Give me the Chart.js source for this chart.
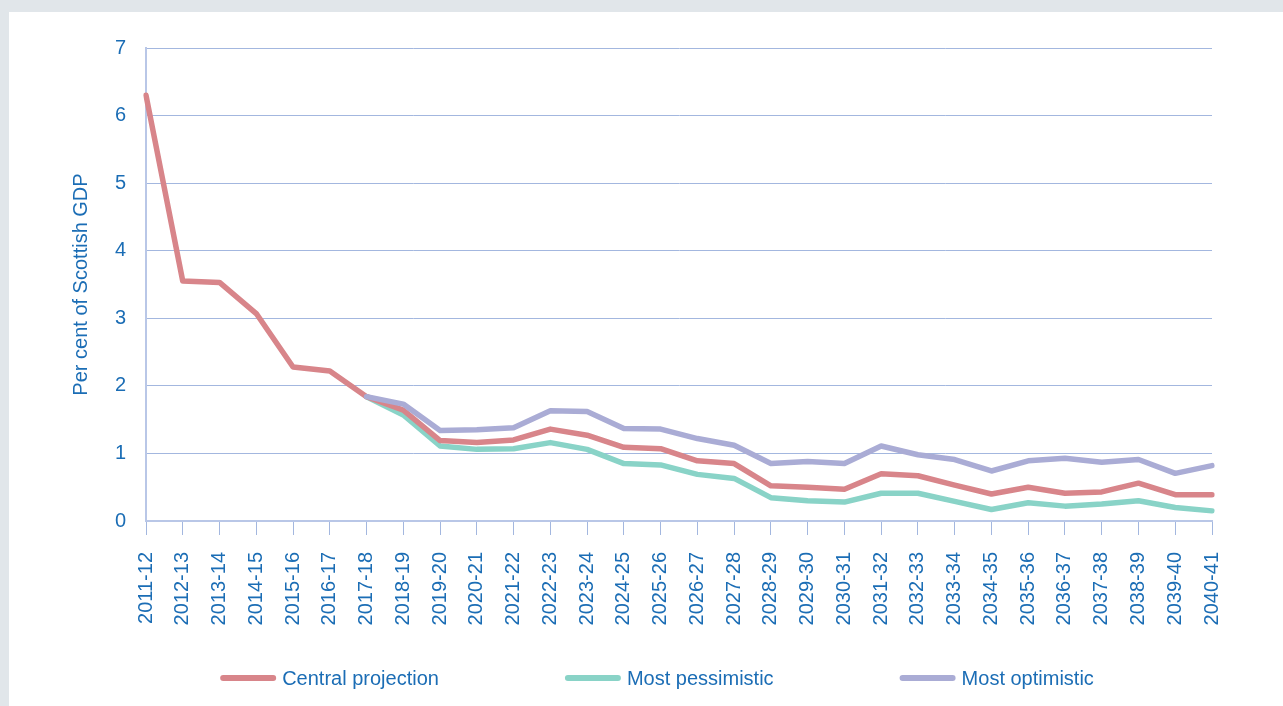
<!DOCTYPE html>
<html>
<head>
<meta charset="utf-8">
<style>
  html, body { margin: 0; padding: 0; width: 1283px; height: 706px; overflow: hidden; background: #e1e6ea; }
  #panel { position: absolute; left: 9px; top: 12px; width: 1274px; height: 694px; background: #ffffff; }
  #wrap { position: absolute; left: 0; top: 0; width: 1283px; height: 706px; }
</style>
<script src="https://cdn.jsdelivr.net/npm/chart.js@4/dist/chart.umd.min.js"></script>
</head>
<body>
<div id="panel"></div>
<div id="wrap"><canvas id="chart" width="1283" height="706"></canvas></div>
<script>
// Fiscal years on the horizontal axis
const years = [
  '2011-12', '2012-13', '2013-14', '2014-15', '2015-16', '2016-17', '2017-18', '2018-19',
  '2019-20', '2020-21', '2021-22', '2022-23', '2023-24', '2024-25', '2025-26', '2026-27',
  '2027-28', '2028-29', '2029-30', '2030-31', '2031-32', '2032-33', '2033-34', '2034-35',
  '2035-36', '2036-37', '2037-38', '2038-39', '2039-40', '2040-41'
];

// Per cent of Scottish GDP
const central = [
  6.30, 3.55, 3.53, 3.07, 2.28, 2.22, 1.84, 1.64, 1.19, 1.16,
  1.20, 1.36, 1.27, 1.09, 1.07, 0.89, 0.85, 0.52, 0.50, 0.47,
  0.70, 0.67, 0.53, 0.40, 0.50, 0.41, 0.43, 0.56, 0.39, 0.39
];
const pessimistic = [
  null, null, null, null, null, null, 1.84, 1.57, 1.11, 1.06,
  1.07, 1.16, 1.06, 0.85, 0.83, 0.69, 0.63, 0.345, 0.30, 0.28,
  0.41, 0.41, 0.29, 0.17, 0.27, 0.22, 0.25, 0.30, 0.20, 0.15
];
const optimistic = [
  null, null, null, null, null, null, 1.84, 1.73, 1.34, 1.35,
  1.38, 1.63, 1.62, 1.37, 1.36, 1.22, 1.12, 0.85, 0.88, 0.85,
  1.11, 0.98, 0.91, 0.74, 0.89, 0.93, 0.87, 0.91, 0.705, 0.82
];

const yTicks = [0, 1, 2, 3, 4, 5, 6, 7];
const seriesNames = ['Central projection', 'Most pessimistic', 'Most optimistic'];

const BLUE_TEXT = '#1b6db5';
const GRID = '#a3b7df';
const AXIS = '#b9c7e7';
const FONT = "'Liberation Sans', Arial, Helvetica, sans-serif";

// Legend laid out as a single centred row under the axis labels
const rowLegend = {
  id: 'rowLegend',
  afterDraw(chart) {
    const ctx = chart.ctx;
    const lineLen = 56, textGap = 6, itemGap = 126;
    const y = 678;
    ctx.save();
    ctx.font = '20px ' + FONT;
    const items = chart.data.datasets.map(ds => ({
      label: ds.label, color: ds.borderColor, w: lineLen + textGap + ctx.measureText(ds.label).width
    }));
    const total = items.reduce((s, it) => s + it.w, 0) + itemGap * (items.length - 1);
    let x = 657 - total / 2;
    items.forEach(it => {
      ctx.strokeStyle = it.color;
      ctx.lineWidth = 6;
      ctx.lineCap = 'round';
      ctx.beginPath();
      ctx.moveTo(x + 3, y);
      ctx.lineTo(x + lineLen - 3, y);
      ctx.stroke();
      ctx.fillStyle = BLUE_TEXT;
      ctx.textBaseline = 'middle';
      ctx.textAlign = 'left';
      ctx.fillText(it.label, x + lineLen + textGap, y + 1);
      x += it.w + itemGap;
    });
    ctx.restore();
  }
};

const lineStyle = {
  borderWidth: 5.5,
  pointRadius: 0,
  pointHoverRadius: 0,
  tension: 0,
  fill: false,
  spanGaps: false,
  borderCapStyle: 'round',
  borderJoinStyle: 'round'
};

new Chart(document.getElementById('chart'), {
  type: 'line',
  data: {
    labels: years,
    datasets: [
      Object.assign({ label: seriesNames[0], data: central, borderColor: '#d8858a', order: 1 }, lineStyle),
      Object.assign({ label: seriesNames[1], data: pessimistic, borderColor: '#89d3c7', order: 2 }, lineStyle),
      Object.assign({ label: seriesNames[2], data: optimistic, borderColor: '#aaacd5', order: 0 }, lineStyle)
    ]
  },
  plugins: [rowLegend],
  options: {
    responsive: false,
    animation: false,
    events: [],
    layout: { padding: { left: 59, right: 71, top: 48, bottom: 75 } },
    plugins: {
      legend: { display: false },
      tooltip: { enabled: false },
      title: { display: false }
    },
    scales: {
      x: {
        offset: false,
        grid: {
          drawOnChartArea: false,
          drawTicks: true,
          tickLength: 14,
          tickColor: GRID,
          tickWidth: 1
        },
        border: { display: true, color: AXIS, width: 2 },
        ticks: {
          autoSkip: false,
          minRotation: 90,
          maxRotation: 90,
          padding: 17,
          color: BLUE_TEXT,
          font: { family: FONT, size: 20 }
        },
        afterFit(scale) { scale.height = 110; }
      },
      y: {
        min: 0,
        max: 7,
        afterBuildTicks(scale) { scale.ticks = yTicks.map(v => ({ value: v })); },
        grid: { color: GRID, lineWidth: 1, drawTicks: false },
        border: { display: true, color: AXIS, width: 2 },
        ticks: {
          padding: 20,
          color: BLUE_TEXT,
          font: { family: FONT, size: 20 }
        },
        title: {
          display: true,
          text: 'Per cent of Scottish GDP',
          color: BLUE_TEXT,
          font: { family: FONT, size: 20 },
          padding: { top: 10, bottom: 0 }
        },
        afterFit(scale) { scale.width = 87; }
      }
    }
  }
});
</script>
</body>
</html>
